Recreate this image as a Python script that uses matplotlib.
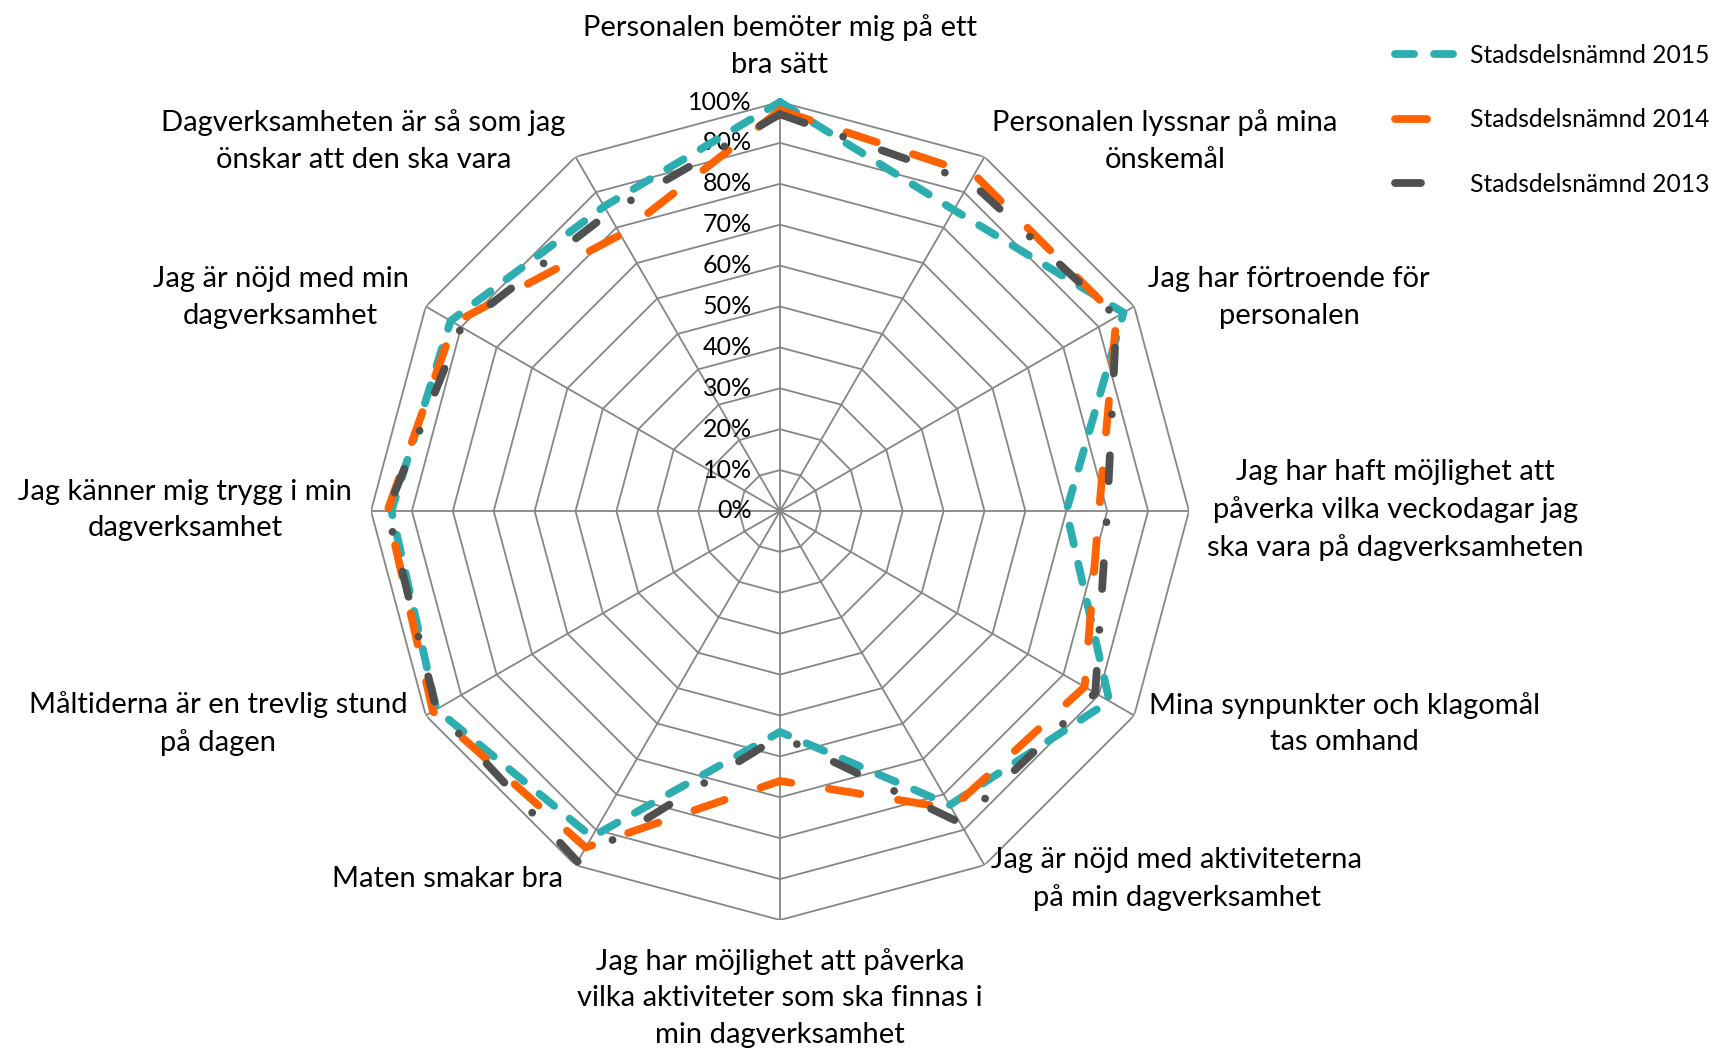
import numpy as np
import matplotlib.pyplot as plt
from matplotlib.transforms import offset_copy

plt.rcParams['font.family'] = ['Lato', 'DejaVu Sans']
plt.rcParams['lines.scale_dashes'] = False

categories = [
    "Personalen bemöter mig på ett\nbra sätt",
    "Personalen lyssnar på mina\nönskemål",
    "Jag har förtroende för\npersonalen",
    "Jag har haft möjlighet att\npåverka vilka veckodagar jag\nska vara på dagverksamheten",
    "Mina synpunkter och klagomål\ntas omhand",
    "Jag är nöjd med aktiviteterna\npå min dagverksamhet",
    "Jag har möjlighet att påverka\nvilka aktiviteter som ska finnas i\nmin dagverksamhet",
    "Maten smakar bra",
    "Måltiderna är en trevlig stund\npå dagen",
    "Jag känner mig trygg i min\ndagverksamhet",
    "Jag är nöjd med min\ndagverksamhet",
    "Dagverksamheten är så som jag\nönskar att den ska vara",
]
v2015 = [100, 85, 97, 70, 93, 83, 54, 92, 97, 95, 93, 86]
v2014 = [98, 95, 95, 78, 86, 84, 66, 95, 98, 96, 92, 78]
v2013 = [97, 93, 95, 80, 89, 88, 55, 99, 97, 96, 90, 84]
series_names = ["Stadsdelsnämnd 2015", "Stadsdelsnämnd 2014", "Stadsdelsnämnd 2013"]
rings = [0, 10, 20, 30, 40, 50, 60, 70, 80, 90, 100]
ring_labels = [f"{r}%" for r in rings]

n = len(categories)
theta = np.arange(n) * 2 * np.pi / n
theta_c = np.append(theta, theta[0])

fig = plt.figure(figsize=(17.15, 10.5), dpi=100)
cx, cy = 780 / 1715, 1 - 511 / 1050
rw, rh = 409 / 1715, 409 / 1050
ax = fig.add_axes([cx - rw, cy - rh, 2 * rw, 2 * rh], projection='polar')
ax.set_theta_zero_location('N')
ax.set_theta_direction(-1)
ax.set_ylim(0, 100)
ax.grid(False)
ax.set_xticks([])
ax.set_yticks([])
ax.spines['polar'].set_visible(False)
ax.patch.set_visible(False)

grid_col = '#868686'
for r in rings[1:]:
    ax.plot(theta_c, [r] * (n + 1), color=grid_col, lw=1.3, zorder=1)
for t in theta:
    ax.plot([t, t], [0, 100], color=grid_col, lw=1.3, zorder=1)

# tick labels along the top spoke
tr = offset_copy(ax.transData, fig=fig, x=-28, y=0, units='dots')
for r, lab in zip(rings, ring_labels):
    ax.text(0, r, lab, transform=tr, ha='right', va='center', fontsize=18, color='black')

lw = 5.6
l15, = ax.plot(theta_c, v2015 + v2015[:1], color='#2CADB0', lw=lw,
               dashes=(13.7, 14.4), dash_capstyle='round', solid_capstyle='round',
               clip_on=False, zorder=3, label=series_names[0])
l14, = ax.plot(theta_c, v2014 + v2014[:1], color='#FF6200', lw=lw,
               dashes=(23, 27.4), dash_capstyle='round',
               clip_on=False, zorder=4, label=series_names[1])
l13, = ax.plot(theta_c, v2013 + v2013[:1], color='#505050', lw=lw,
               dashes=(18.7, 29.5, 0.01, 29.5), dash_capstyle='round',
               clip_on=False, zorder=5, label=series_names[2])

# category labels around the outer ring
placing = [('center', 0, 56), ('left', 8, 16), ('left', 14, 9), ('left', 18, 1),
           ('left', 15, -8), ('left', 7, -14), ('center', 0, -78), ('right', -12, -14),
           ('right', -18, -8), ('right', -19, 1), ('right', -17, 9), ('right', -10, 16)]
for t, lab, (ha, dx, dy) in zip(theta, categories, placing):
    ax.annotate(lab, xy=(t, 100), xytext=(dx, dy), textcoords='offset pixels',
                ha=ha, va='center', multialignment='center', fontsize=21,
                linespacing=1.52, annotation_clip=False)

fig.legend(handles=[l15, l14, l13], loc='upper left', bbox_to_anchor=(0.8134, 0.958),
           frameon=False, fontsize=17.7, handlelength=2.5, handletextpad=0.55,
           labelspacing=1.68, borderpad=0, borderaxespad=0)

fig.savefig('out.png', dpi=100)
